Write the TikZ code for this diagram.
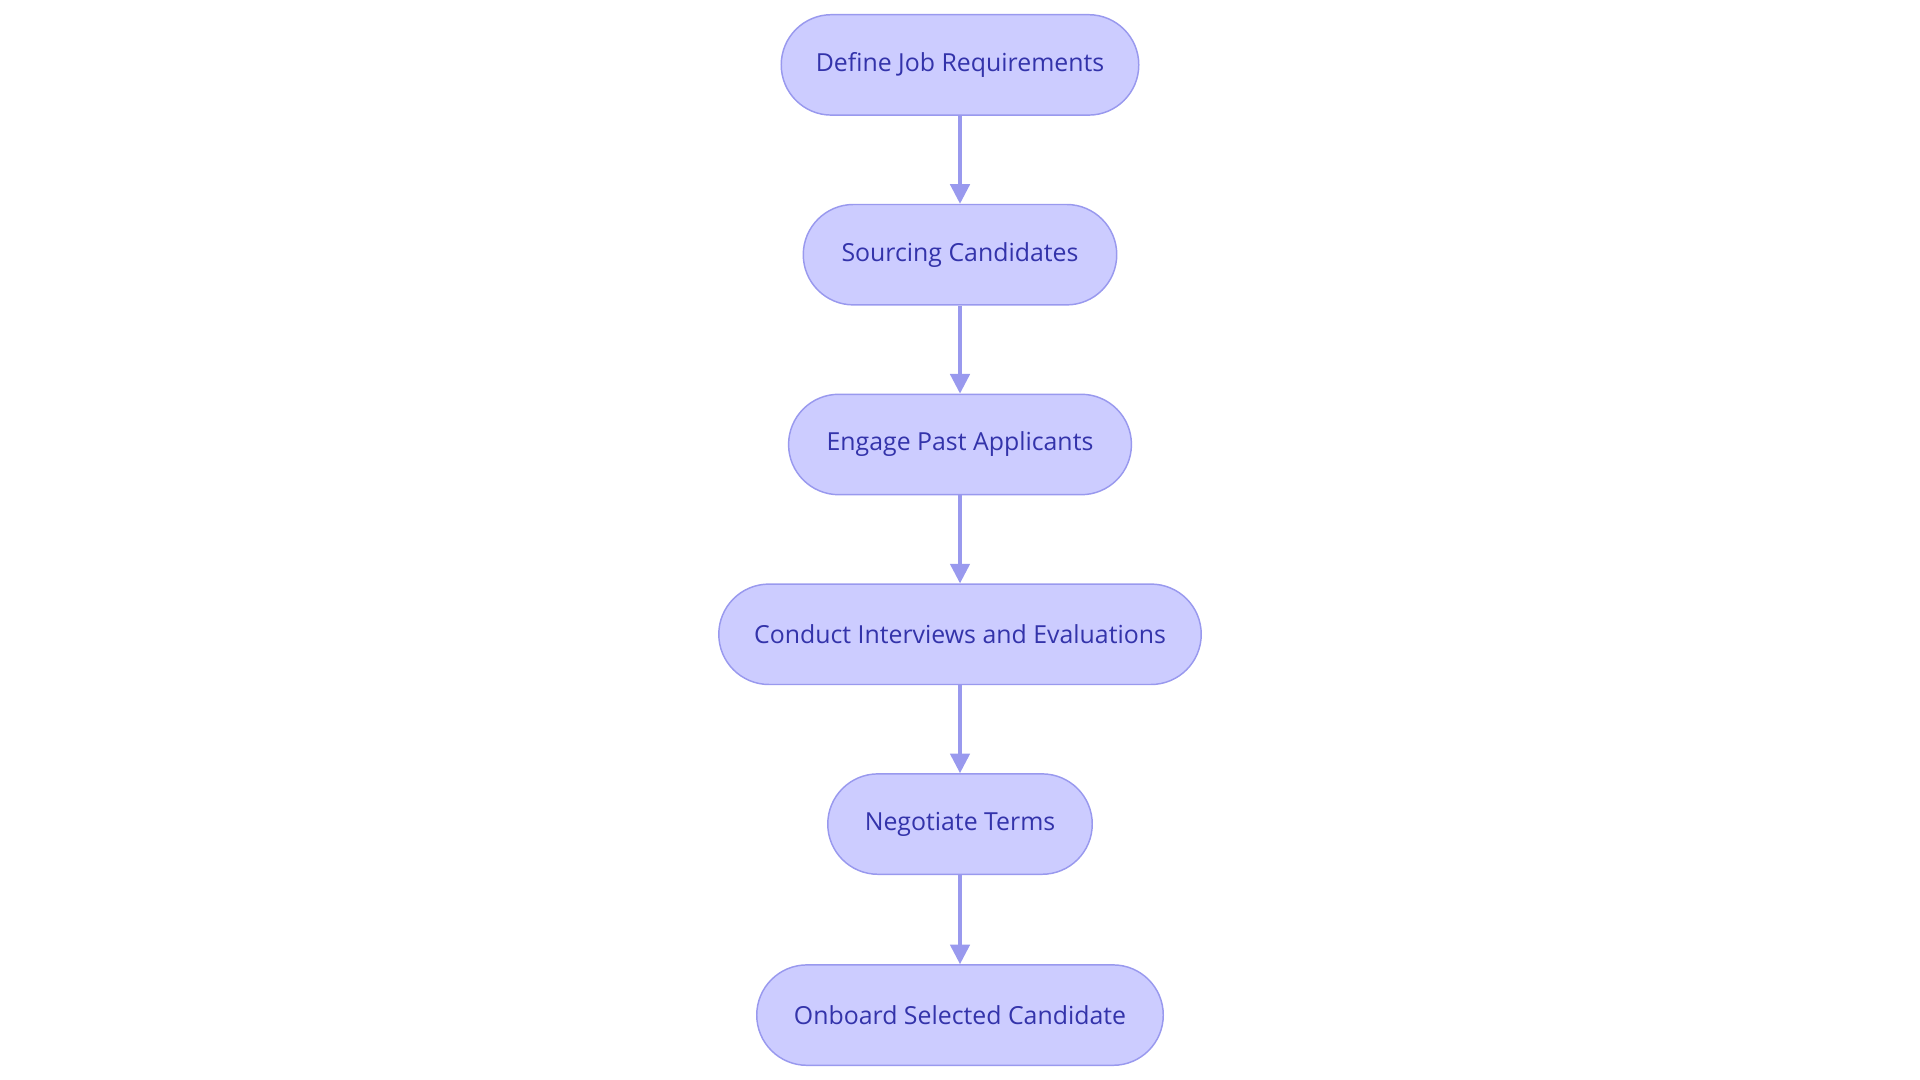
\documentclass[tikz,border=0pt]{standalone}
\usepackage{fontspec}
\setmainfont{Open Sans}
\usetikzlibrary{arrows.meta}
\definecolor{nfill}{HTML}{CCCCFF}
\definecolor{nline}{HTML}{9999EE}
\definecolor{ntext}{HTML}{3333AA}
\begin{document}
\begin{tikzpicture}[x=1pt,y=-1pt,
  box/.style={draw=nline,fill=nfill,line width=1.2pt,rounded corners=41pt,minimum height=82pt,inner sep=0pt,text=ntext,font=\fontsize{20.3}{24}\selectfont},
  arr/.style={draw=nline,line width=2.5pt,-{Triangle[length=16pt,width=16pt]}}]
\useasboundingbox (0,0) rectangle (1568,882);
\node[box,minimum width=292pt] (a) at (784,53) {Define Job Requirements};
\node[box,minimum width=256pt] (b) at (784,208) {Sourcing Candidates};
\node[box,minimum width=280pt] (c) at (784,363) {Engage Past Applicants};
\node[box,minimum width=394pt] (d) at (784,518) {Conduct Interviews and Evaluations};
\node[box,minimum width=216pt] (e) at (784,673) {Negotiate Terms};
\node[box,minimum width=332pt] (f) at (784,829) {Onboard Selected Candidate};
\draw[arr] (a) -- (b);
\draw[arr] (b) -- (c);
\draw[arr] (c) -- (d);
\draw[arr] (d) -- (e);
\draw[arr] (e) -- (f);
\end{tikzpicture}
\end{document}
